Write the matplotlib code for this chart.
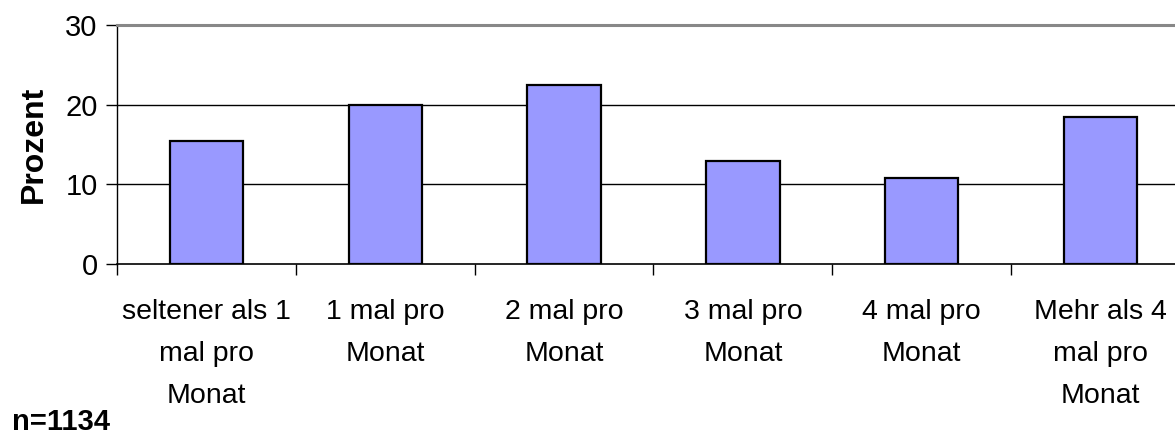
import matplotlib
matplotlib.use("Agg")
import matplotlib.pyplot as plt
import numpy as np

plt.rcParams["font.family"] = ["Liberation Sans", "DejaVu Sans"]

kategorien = ["seltener als 1\nmal pro\nMonat", "1 mal pro\nMonat", "2 mal pro\nMonat",
              "3 mal pro\nMonat", "4 mal pro\nMonat", "Mehr als 4\nmal pro\nMonat"]
prozent = [15.5, 20.0, 22.5, 12.9, 10.75, 18.5]
y_ticks = [0, 10, 20, 30]

W, H = 1175, 436
fig = plt.figure(figsize=(W / 100, H / 100), dpi=100)
ax = fig.add_axes([117 / W, (H - 264) / H, (1190 - 117) / W, (264 - 25) / H])

x = np.arange(len(kategorien))
ax.bar(x, prozent, width=0.41, color="#9999FF", edgecolor="black", linewidth=1.6, zorder=3)

ax.set_xlim(-0.5, len(kategorien) - 0.5)
ax.set_ylim(0, 30)
ax.set_yticks(y_ticks)
ax.set_yticklabels([str(v) for v in y_ticks], fontsize=21)
ax.tick_params(axis="y", length=8, width=1, pad=6, direction="out")

# Kategoriegrenzen als Ticks, Beschriftungen mittig
ax.set_xticks(np.arange(len(kategorien) + 1) - 0.5)
ax.set_xticklabels([])
ax.tick_params(axis="x", which="major", length=8, width=1, direction="out")
ax.set_xticks(x, minor=True)
ax.set_xticklabels(kategorien, minor=True, fontsize=20.5, linespacing=1.8)
ax.tick_params(axis="x", which="minor", length=0, pad=25)

for v in [10, 20]:
    ax.axhline(v, color="black", linewidth=1, zorder=1)

ax.spines["top"].set_color("#888888")
ax.spines["top"].set_linewidth(2.2)
ax.spines["left"].set_linewidth(1)
ax.spines["bottom"].set_linewidth(1.2)
ax.spines["right"].set_visible(False)

ax.set_ylabel("Prozent", fontsize=23, fontweight="bold", labelpad=12)
fig.text(12 / W, (H - 430) / H, "n=1134", fontsize=21, fontweight="bold",
         ha="left", va="baseline")

fig.savefig("out.png", dpi=100)
